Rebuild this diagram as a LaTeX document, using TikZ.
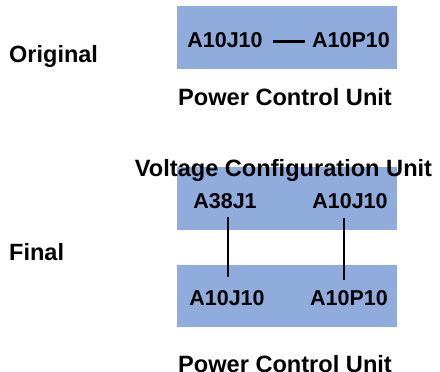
\documentclass[tikz,border=0pt]{standalone}
\usepackage{fontspec}
\setmainfont{Liberation Sans}
\definecolor{boxblue}{RGB}{143,172,220}
\begin{document}
\begin{tikzpicture}[x=1pt,y=-1pt,
  unitbox/.style={draw=none,fill=boxblue,minimum width=220pt,inner sep=0pt},
  title/.style={font=\fontsize{23.6}{28}\selectfont\bfseries,inner sep=0pt,anchor=base},
  side/.style={font=\fontsize{23.5}{28}\selectfont\bfseries,inner sep=0pt,anchor=base west},
  conn/.style={font=\fontsize{21.5}{26}\selectfont\bfseries,inner sep=0pt,anchor=base},
  wire/.style={line width=2.8pt,draw=black}]
\useasboundingbox (0,0) rectangle (440,372);
% boxes
\node[unitbox,minimum height=63pt] (box1) at (287,37.5) {};
\node[unitbox,minimum height=63pt] (box2) at (287,198.5) {};
\node[unitbox,minimum height=62pt] (box3) at (287,296) {};
% side labels
\node[side] (orig) at (9,63) {Original};
\node[side] (fin) at (9,260) {Final};
% original
\node[conn] (o1) at (225,48) {A10J10};
\node[conn] (o2) at (351,48) {A10P10};
\draw[wire,shorten <=10pt,shorten >=7pt] ([yshift=-1pt]o1.east) -- ([yshift=-1pt]o2.west);
\node[title] (pcu1) at (285,105) {Power Control Unit};
% final
\node[title] (vcu) at (283.5,176.5) {Voltage Configuration Unit};
\node[conn] (f1) at (225,208) {A38J1};
\node[conn] (f2) at (350,208) {A10J10};
\node[conn] (f3) at (227,305) {A10J10};
\node[conn] (f4) at (349,305) {A10P10};
\draw[wire,shorten <=9pt,shorten >=13pt] ([xshift=3pt]f1.south) -- ([xshift=1pt]f3.north);
\draw[wire,shorten <=10pt,shorten >=10pt] ([xshift=-6pt]f2.south) -- ([xshift=-5pt]f4.north);
\node[title] (pcu2) at (285,372) {Power Control Unit};
\end{tikzpicture}
\end{document}
